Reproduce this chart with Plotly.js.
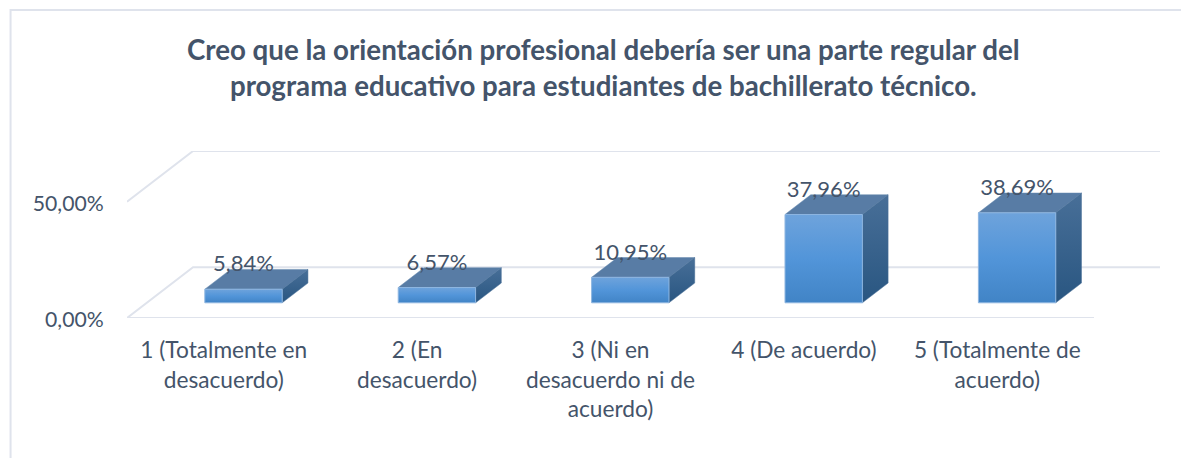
<!DOCTYPE html>
<html>
<head>
<meta charset="utf-8">
<script src="https://cdn.plot.ly/plotly-3.0.1.min.js"></script>
<style>html,body{margin:0;padding:0;background:#fff;overflow:hidden}#chart{width:1181px;height:458px}</style>
</head>
<body>
<div id="chart"></div>
<script>
const categories = ["1 (Totalmente en<br>desacuerdo)", "2 (En<br>desacuerdo)", "3 (Ni en<br>desacuerdo ni de<br>acuerdo)", "4 (De acuerdo)", "5 (Totalmente de<br>acuerdo)"];
const values = [5.84, 6.57, 10.95, 37.96, 38.69];
const gridValues = [0, 50];
const gridLabels = ["0,00%", "50,00%"];
const titleText = "Creo que la orientación profesional debería ser una parte regular del<br>programa educativo para estudiantes de bachillerato técnico.";

const textColor = "#44546a", gridColor = "#dfe3ec", fontName = "Lato, Carlito, sans-serif";

// oblique projection: depth z (0 front .. 1 back) shifts a point right and up
const W = 1181, H = 458, L = 127.4, R = 1160, T = 151, B = 318;
const pxPerCat = 193.3, pxPerPct = 2.34;
const depthX = 66 / pxPerCat, depthY = 51 / pxPerPct;
const zFront = 0.3, zBack = 0.69, halfW = 0.2;
const px = (c, z) => c + z * depthX;
const py = (v, z) => v + z * depthY;

const traces = [];
// walls and floor
gridValues.forEach(g => {
  traces.push({type:"scatter", mode:"lines", x:[px(-0.5,0), px(-0.5,1), px(4.5,1)], y:[py(g,0), py(g,1), py(g,1)],
    line:{color:gridColor, width:2}, cliponaxis:false, hoverinfo:"skip"});
});
traces.push({type:"scatter", mode:"lines", x:[-0.5, 4.5], y:[0, 0], line:{color:gridColor, width:2}, cliponaxis:false, hoverinfo:"skip"});

const poly = (xs, ys, extra) => Object.assign({type:"scatter", mode:"lines", x:[...xs, xs[0]], y:[...ys, ys[0]], fill:"toself", hoverinfo:"skip", cliponaxis:false}, extra);

values.forEach((v, i) => {
  const a = i - halfW, b = i + halfW;
  // top face
  traces.push(poly([px(a,zFront), px(b,zFront), px(b,zBack), px(a,zBack)], [py(v,zFront), py(v,zFront), py(v,zBack), py(v,zBack)],
    {fillcolor:"#587ca5", line:{color:"#6488ae", width:0.5}}));
  // side face
  traces.push(poly([px(b,zFront), px(b,zBack), px(b,zBack), px(b,zFront)], [py(0,zFront), py(0,zBack), py(v,zBack), py(v,zFront)],
    {fillgradient:{type:"vertical", colorscale:[[0,"#295681"],[1,"#486f98"]]}, line:{color:"#4a7098", width:0.5}}));
  // front face
  traces.push(poly([px(a,zFront), px(b,zFront), px(b,zFront), px(a,zFront)], [py(0,zFront), py(0,zFront), py(v,zFront), py(v,zFront)],
    {fillgradient:{type:"vertical", colorscale:[[0,"#4184c6"],[0.5,"#5295d9"],[1,"#6ea3dc"]]}, line:{color:"#8db5e0", width:1}}));
});

// data labels
traces.push({type:"scatter", mode:"text", x:values.map((v,i)=>px(i,zFront)), y:values.map(v=>py(v,zFront)+10),
  text:values.map(v=>v.toFixed(2).replace(".",",")+"%"), textposition:"middle center",
  textfont:{family:fontName, size:22, color:textColor}, cliponaxis:false, hoverinfo:"skip"});

const layout = {
  width:W, height:H, showlegend:false, hovermode:false,
  paper_bgcolor:"#fff", plot_bgcolor:"rgba(0,0,0,0)",
  margin:{l:L, r:W-R, t:T, b:H-B, pad:0},
  title:{text:titleText, font:{family:fontName, size:27.7, color:textColor, weight:700}, xref:"paper", x:(603.5-L)/(R-L), xanchor:"center", y:0.87, yanchor:"middle", yref:"container"},
  xaxis:{range:[-0.5, 4.5+depthX], tickmode:"array", tickvals:categories.map((c,i)=>i), ticktext:categories, showgrid:false, zeroline:false, showline:false,
    ticks:"outside", ticklen:12, tickcolor:"rgba(0,0,0,0)", tickangle:0, tickfont:{family:fontName, size:22.7, color:textColor}, fixedrange:true},
  yaxis:{range:[0, 50+depthY], tickmode:"array", tickvals:gridValues, ticktext:gridLabels, showgrid:false, zeroline:false, showline:false,
    ticks:"outside", ticklen:18, tickcolor:"rgba(0,0,0,0)", ticklabelshift:2, tickfont:{family:fontName, size:21.2, color:textColor}, fixedrange:true},
  shapes:[{type:"rect", layer:"below", xref:"paper", yref:"paper", x0:(11-L)/(R-L), x1:1.2, y0:-1, y1:(B-10)/(B-T), line:{color:gridColor, width:2}, fillcolor:"rgba(0,0,0,0)"}]
};
Plotly.newPlot("chart", traces, layout, {displayModeBar:false, responsive:false});
</script>
</body>
</html>
